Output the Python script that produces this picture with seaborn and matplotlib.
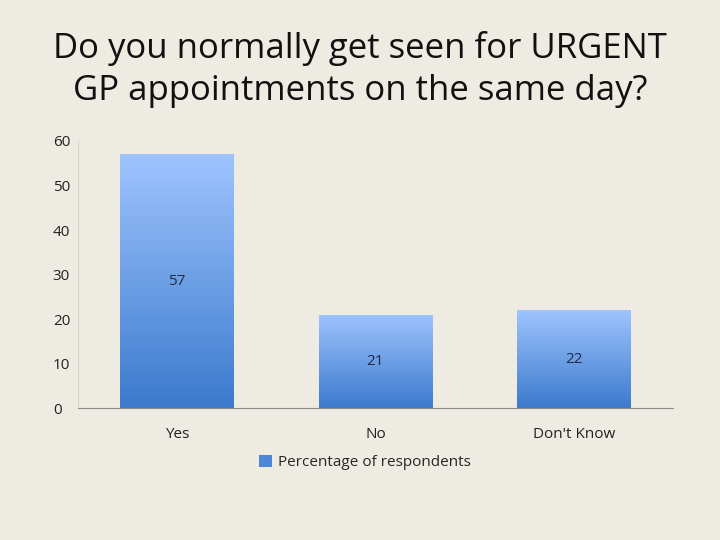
import numpy as np
import matplotlib
matplotlib.use("Agg")
import matplotlib.pyplot as plt
import matplotlib.colors as mcolors
from matplotlib.patches import Patch
import seaborn as sns
import pandas as pd

categories = ["Yes", "No", "Don't Know"]
values = [57, 21, 22]
series_name = "Percentage of respondents"
title = "Do you normally get seen for URGENT\nGP appointments on the same day?"

bg = "#EEEBE2"
sns.set_style("white")
plt.rcParams['font.family'] = ['Open Sans', 'DejaVu Sans']

df = pd.DataFrame({"answer": categories, "pct": values})

fig = plt.figure(figsize=(7.2, 5.4), dpi=100, facecolor=bg)
ax = fig.add_axes([0.108, 0.2444, 0.827, 0.4945])
ax.set_facecolor(bg)

sns.barplot(data=df, x="answer", y="pct", ax=ax, width=0.57, color="#5B8FDA")

# vertical gradient fill for each bar
cmap = mcolors.LinearSegmentedColormap.from_list("bar", ["#3C7ACD", "#9EC4FE"])
grad = np.linspace(0, 1, 256).reshape(-1, 1)
for bar in ax.patches:
    x0, y0 = bar.get_x(), bar.get_y()
    w, h = bar.get_width(), bar.get_height()
    im = ax.imshow(grad, cmap=cmap, origin="lower", aspect="auto",
                   extent=[x0, x0 + w, y0, y0 + h], zorder=bar.get_zorder())
    im.set_clip_path(bar)
    bar.set_alpha(0)
    ax.text(x0 + w / 2, y0 + h / 2, f"{values[int(round(x0 + w / 2))]}",
            ha="center", va="center", fontsize=11, color="#1F2A44", zorder=5)

ax.set_xlim(-0.5, 2.5)
ax.set_ylim(0, 60)
ax.set_yticks(range(0, 61, 10))
ax.set_xlabel("")
ax.set_ylabel("")
ax.tick_params(axis="both", length=0, labelsize=11, colors="#222222")
ax.tick_params(axis="x", pad=14)
ax.tick_params(axis="y", pad=18)
for lab in ax.get_yticklabels():
    lab.set_horizontalalignment("left")
for s in ["top", "right"]:
    ax.spines[s].set_visible(False)
ax.spines["left"].set_color("#D8D5CC")
ax.spines["bottom"].set_color("#8C8C8C")

fig.text(0.5, 0.872, title, ha="center", va="center", fontsize=25,
         color="#111111", linespacing=1.3)

handle = Patch(facecolor="#4F86D6", edgecolor="none")
fig.legend([handle], [series_name], loc="center", bbox_to_anchor=(0.507, 0.143),
           frameon=False, fontsize=11, handlelength=0.8, handleheight=0.8,
           handletextpad=0.4)

fig.savefig("out.png", dpi=100, facecolor=bg)
